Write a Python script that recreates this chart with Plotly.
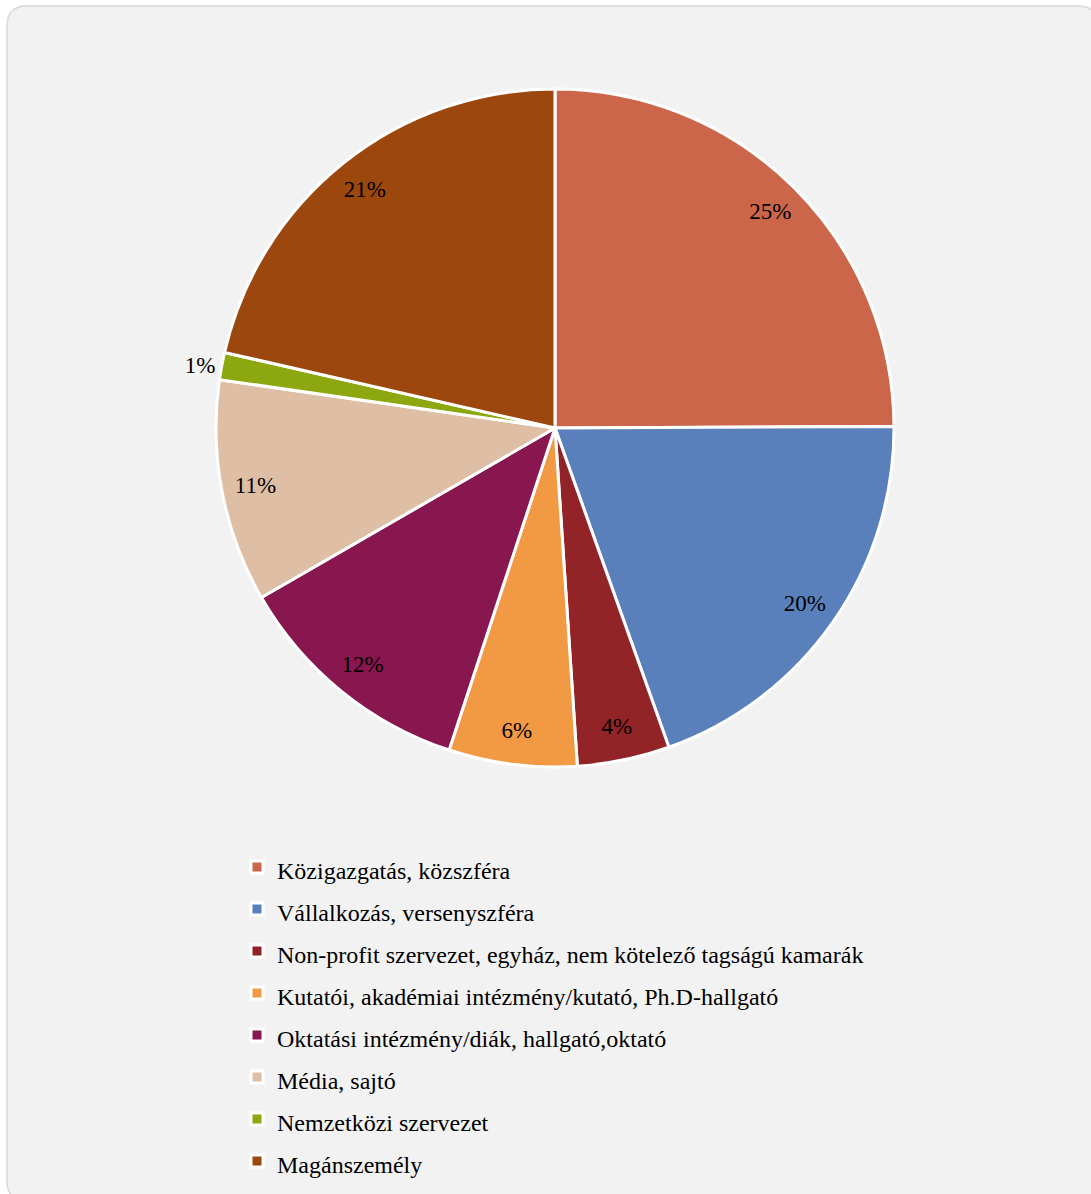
import plotly.graph_objects as go

categories = [
    "Közigazgatás, közszféra",
    "Vállalkozás, versenyszféra",
    "Non-profit szervezet, egyház, nem kötelező tagságú kamarák",
    "Kutatói, akadémiai intézmény/kutató, Ph.D-hallgató",
    "Oktatási intézmény/diák, hallgató,oktató",
    "Média, sajtó",
    "Nemzetközi szervezet",
    "Magánszemély",
]
values = [24.9, 19.6, 4.4, 6.1, 11.6, 10.6, 1.3, 21.4]
colors = ["#CB664B", "#5A80BC", "#922427", "#F19A43", "#87174E", "#DEBFA5", "#8CA70F", "#9C470D"]
text_positions = ["inside", "inside", "inside", "inside", "inside", "inside", "outside", "inside"]

W, H = 1091, 1194
FONT = "Liberation Serif"

def px(x):
    return x / W

def py(y):
    return 1 - y / H

legend_labels = ["<span style='font-size:24px'>%s</span>" % c for c in categories]
pie_domain = dict(x=[px(216), px(894)], y=[py(767), py(89)])

fig = go.Figure()
# main pie: slices and legend
fig.add_trace(go.Pie(
    labels=legend_labels,
    values=values,
    sort=False,
    direction="clockwise",
    rotation=0,
    marker=dict(colors=colors, line=dict(color="white", width=3)),
    textinfo="none",
    domain=pie_domain,
    hoverinfo="label+percent",
))
# transparent ring carrying the percentage labels near the rim
fig.add_trace(go.Pie(
    labels=legend_labels,
    values=values,
    sort=False,
    direction="clockwise",
    rotation=0,
    hole=0.8,
    marker=dict(colors=["rgba(0,0,0,0)"] * len(values), line=dict(width=0)),
    texttemplate="%{percent:.0%}",
    textposition=text_positions,
    insidetextorientation="horizontal",
    textfont=dict(family=FONT, size=23, color="black"),
    domain=pie_domain,
    showlegend=False,
    hoverinfo="skip",
))

# rounded background box
x0, y0, x1, y1, r = 7, 6, 1098, 1201, 20
path = (
    f"M {px(x0 + r)} {py(y0)} L {px(x1 - r)} {py(y0)} "
    f"Q {px(x1)} {py(y0)} {px(x1)} {py(y0 + r)} "
    f"L {px(x1)} {py(y1 - r)} Q {px(x1)} {py(y1)} {px(x1 - r)} {py(y1)} "
    f"L {px(x0 + r)} {py(y1)} Q {px(x0)} {py(y1)} {px(x0)} {py(y1 - r)} "
    f"L {px(x0)} {py(y0 + r)} Q {px(x0)} {py(y0)} {px(x0 + r)} {py(y0)} Z"
)
fig.add_shape(type="path", path=path, xref="paper", yref="paper",
              fillcolor="#F2F2F2", line=dict(color="#D9D9D9", width=1.5), layer="below")

fig.update_layout(
    width=W, height=H,
    margin=dict(l=0, r=0, t=0, b=0),
    paper_bgcolor="white",
    plot_bgcolor="rgba(0,0,0,0)",
    font=dict(family=FONT, color="black"),
    showlegend=True,
    legend=dict(
        x=px(237), xanchor="left",
        y=py(841), yanchor="top",
        bgcolor="rgba(0,0,0,0)",
        font=dict(family=FONT, size=30, color="black"),
        traceorder="normal",
    ),
)

fig.write_html("out.html", config={"displayModeBar": False},
               post_script="document.body.style.margin='0';")
